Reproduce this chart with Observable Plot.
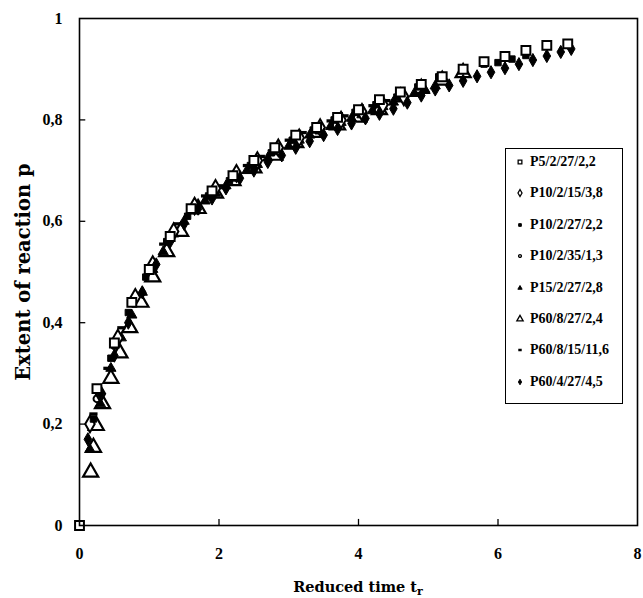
<!DOCTYPE html>
<html><head><meta charset="utf-8">
<script src="https://cdn.jsdelivr.net/npm/d3@7"></script>
<script src="https://cdn.jsdelivr.net/npm/@observablehq/plot@0.6"></script>
<style>
body{margin:0;background:#fff;}
#wrap{position:relative;width:643px;height:598px;font-family:"Liberation Serif","Times New Roman",serif;}
#legend{position:absolute;left:505px;top:148px;width:118px;height:256px;border:1.5px solid #000;background:#fff;box-sizing:border-box;}
.lrow{position:absolute;left:0;height:20px;display:flex;align-items:center;font-weight:bold;font-size:14px;color:#000;}
.lrow svg{margin-left:9px;margin-right:5px;}
#xtitle{position:absolute;left:0;width:643px;top:578px;padding-left:79px;box-sizing:border-box;padding-right:6px;text-align:center;font-family:"DejaVu Serif",serif;font-weight:bold;font-size:14.5px;}
#xtitle sub{font-size:11px;vertical-align:-3px;}
</style></head>
<body><div id="wrap"></div>
<script>
const seriesNames = ["P5/2/27/2,2","P10/2/15/3,8","P10/2/27/2,2","P10/2/35/1,3","P15/2/27/2,8","P60/8/27/2,4","P60/8/15/11,6","P60/4/27/4,5"];

const s1x = [0, 0.25, 0.5, 0.75, 1.0, 1.3, 1.6, 1.9, 2.2, 2.5, 2.8, 3.1, 3.4, 3.7, 4.0, 4.3, 4.6, 4.9, 5.2, 5.5, 5.8, 6.1, 6.4, 6.7, 7.0];
const s1p = [0, 0.27, 0.36, 0.44, 0.505, 0.57, 0.625, 0.66, 0.69, 0.72, 0.745, 0.77, 0.785, 0.805, 0.82, 0.84, 0.855, 0.87, 0.885, 0.9, 0.915, 0.925, 0.937, 0.947, 0.95];

const s2x = [0.15, 0.3, 0.55, 0.8, 1.05, 1.35, 1.65, 1.95, 2.25, 2.55, 2.85, 3.15, 3.45, 3.75, 4.05, 4.35, 4.65];
const s2p = [0.2, 0.26, 0.37, 0.45, 0.515, 0.58, 0.63, 0.665, 0.695, 0.72, 0.745, 0.765, 0.785, 0.8, 0.815, 0.83, 0.845];

const s3x = [0.2, 0.45, 0.7, 0.95, 1.25, 1.55, 1.85, 2.15, 2.45, 2.75, 3.05, 3.35, 3.65, 3.95, 4.25, 4.55, 4.85, 5.15, 5.5, 5.8, 6.0, 6.2, 6.4];
const s3p = [0.21, 0.33, 0.42, 0.49, 0.56, 0.61, 0.65, 0.68, 0.71, 0.735, 0.76, 0.78, 0.8, 0.815, 0.83, 0.845, 0.865, 0.885, 0.9, 0.91, 0.913, 0.92, 0.927];

const s4x = [0.25, 0.5, 0.78, 1.05, 1.3, 1.6, 1.9, 2.2, 2.5, 2.8, 3.1, 3.4, 3.7, 4.0, 4.3];
const s4p = [0.25, 0.355, 0.445, 0.515, 0.57, 0.625, 0.66, 0.69, 0.72, 0.745, 0.765, 0.785, 0.8, 0.815, 0.835];

const s5x = [0.15, 0.3, 0.45, 0.6, 0.75, 0.9, 1.05, 1.2, 1.35, 1.5, 1.65, 1.8, 1.95, 2.1, 2.25, 2.4, 2.55, 2.7, 2.85, 3.0, 3.15, 3.3, 3.45, 3.6, 3.75, 3.9, 4.05, 4.2, 4.35, 4.5, 4.65, 4.8, 4.95, 5.1];
const s5p = [0.15, 0.24, 0.31, 0.37, 0.415, 0.46, 0.505, 0.54, 0.575, 0.6, 0.62, 0.64, 0.655, 0.67, 0.685, 0.7, 0.712, 0.725, 0.737, 0.748, 0.76, 0.77, 0.778, 0.787, 0.795, 0.803, 0.81, 0.818, 0.826, 0.835, 0.843, 0.852, 0.86, 0.867];

const s6x = [0.16, 0.2, 0.24, 0.33, 0.45, 0.58, 0.72, 0.88, 1.05, 1.25, 1.45, 1.7, 1.95, 2.2, 2.5, 2.8, 3.1, 3.4, 3.7, 4.0, 4.3, 4.6, 4.9, 5.2, 5.5];
const s6p = [0.105, 0.154, 0.197, 0.24, 0.29, 0.34, 0.39, 0.44, 0.49, 0.54, 0.58, 0.625, 0.655, 0.68, 0.705, 0.73, 0.755, 0.775, 0.79, 0.805, 0.82, 0.845, 0.862, 0.878, 0.893];

const s7x = [0.2, 0.4, 0.6, 0.8, 1.0, 1.2, 1.4, 1.6, 1.8, 2.0, 2.2, 2.4, 2.6, 2.8, 3.0, 3.2, 3.4, 3.6, 3.8, 4.0, 4.2, 4.4, 4.6];
const s7p = [0.22, 0.31, 0.39, 0.45, 0.505, 0.555, 0.595, 0.63, 0.65, 0.67, 0.69, 0.71, 0.728, 0.745, 0.76, 0.775, 0.787, 0.798, 0.808, 0.818, 0.828, 0.838, 0.85];

const s8x = [0.12, 0.3, 0.5, 0.7, 0.9, 1.1, 1.3, 1.5, 1.7, 1.9, 2.1, 2.3, 2.5, 2.7, 2.9, 3.1, 3.3, 3.5, 3.7, 3.9, 4.1, 4.3, 4.5, 4.7, 4.9, 5.1, 5.3, 5.5, 5.7, 5.9, 6.1, 6.3, 6.5, 6.7, 6.9, 7.05];
const s8p = [0.17, 0.26, 0.335, 0.4, 0.46, 0.515, 0.56, 0.595, 0.625, 0.645, 0.665, 0.685, 0.7, 0.717, 0.73, 0.745, 0.758, 0.77, 0.782, 0.793, 0.803, 0.812, 0.822, 0.834, 0.848, 0.86, 0.868, 0.877, 0.886, 0.894, 0.902, 0.91, 0.918, 0.926, 0.934, 0.94];

const xTicks = [0, 2, 4, 6, 8];
const yTicks = [0, 0.2, 0.4, 0.6, 0.8, 1];

const dash = {draw(ctx, size){ const w = Math.sqrt(size)*1.1; const h = Math.max(2.5, w*0.4); ctx.rect(-w/2, -h/2, w, h); }};

const styles = [
  {symbol:"square", fill:"white", stroke:"black", r:5.0, sw:2},
  {symbol:"diamond", fill:"white", stroke:"black", r:5.0, sw:2},
  {symbol:"square", fill:"black", stroke:"black", r:3.6, sw:1},
  {symbol:"circle", fill:"white", stroke:"black", r:3.4, sw:2},
  {symbol:"triangle", fill:"black", stroke:"black", r:3.8, sw:1},
  {symbol:"triangle", fill:"white", stroke:"black", r:5.6, sw:2.2},
  {symbol:dash, fill:"black", stroke:"none", r:4.2, sw:0},
  {symbol:"diamond", fill:"black", stroke:"black", r:4.0, sw:1}
];
const xs = [s1x,s2x,s3x,s4x,s5x,s6x,s7x,s8x];
const ps = [s1p,s2p,s3p,s4p,s5p,s6p,s7p,s8p];
const series = seriesNames.map((name,i)=> xs[i].map((x,j)=>({name, x, p: ps[i][j]})));

const fmt = d => d3.format("~g")(d).replace(".", ",");
const dotMarks = [5,6,4,3,1,2,7,0].map(i => Plot.dot(series[i], {x:"x", y:"p", symbol: ()=>styles[i].symbol, fill: styles[i].fill, stroke: styles[i].stroke, strokeWidth: styles[i].sw, r: styles[i].r}));

const chart = Plot.plot({
  width: 643, height: 598,
  marginLeft: 79, marginRight: 6, marginTop: 18, marginBottom: 73,
  style: {fontFamily: '"Liberation Serif", serif', background: "white"},
  x: {domain: [0, 8]},
  y: {domain: [0, 1]},
  symbol: {type: "identity"},
  marks: [
    Plot.axisX({ticks: xTicks, tickSize: 0, tickPadding: 22, tickFormat: fmt, fontSize: 16, fontWeight: "bold", label: null}),
    Plot.axisY({ticks: yTicks, tickSize: 0, tickPadding: 17, tickFormat: fmt, fontSize: 16, fontWeight: "bold", label: null}),
    Plot.ruleX(xTicks.slice(1, -1), {x: d => d, y1: 0, y2: 0.012, stroke: "black", strokeWidth: 1.3}),
    Plot.ruleY(yTicks.slice(1, -1), {y: d => d, x1: 0, x2: 0.09, stroke: "black", strokeWidth: 1.3}),
    ...dotMarks,
    Plot.frame({stroke: "black", strokeWidth: 1.6}),
    Plot.text(["Extent of reaction p"], {frameAnchor: "left", text: d => d, rotate: -90, textAnchor: "middle", dx: -56, fontSize: 19.5, fontWeight: "bold", fontFamily: '"DejaVu Serif", serif', fill: "black"})
  ]
});
const wrap = document.getElementById("wrap");
wrap.appendChild(chart);

const xt = document.createElement("div");
xt.id = "xtitle";
xt.innerHTML = "Reduced time t<sub>r</sub>";
wrap.appendChild(xt);

const leg = document.createElement("div");
leg.id = "legend";
seriesNames.forEach((name, i) => {
  const row = document.createElement("div");
  row.className = "lrow";
  row.style.top = (3 + i * 31.4) + "px";
  const st = styles[i];
  const sym = typeof st.symbol === "string" ? {square: d3.symbolSquare, diamond: d3.symbolDiamond, circle: d3.symbolCircle, triangle: d3.symbolTriangle}[st.symbol] : st.symbol;
  const sz = Math.PI * Math.pow(st.r * 0.42, 2);
  const path = d3.symbol(sym, sz)();
  row.innerHTML = `<svg width="10" height="12" viewBox="-5 -6 10 12"><path d="${path}" fill="${st.fill}" stroke="${st.stroke}" stroke-width="${Math.min(st.sw, 1.3)}"/></svg><span>${name}</span>`;
  leg.appendChild(row);
});
wrap.appendChild(leg);
</script></body></html>
